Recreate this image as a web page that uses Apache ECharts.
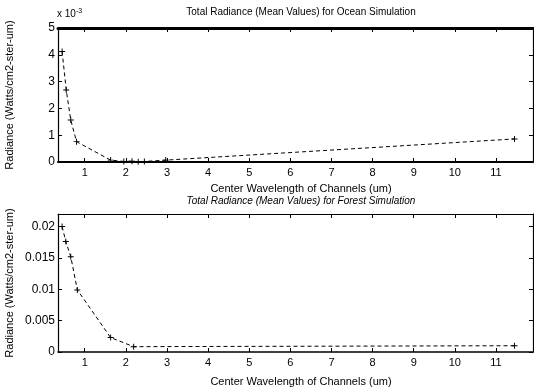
<!DOCTYPE html>
<html><head><meta charset="utf-8">
<script src="https://cdn.jsdelivr.net/npm/echarts@6/dist/echarts.min.js"></script>
<style>html,body{margin:0;padding:0;background:#fff}#c{width:534px;height:390px}</style>
</head><body><div id="c"></div>
<script>
// Ocean simulation (values in units of 1e-3 Watts/cm2-ster-um)
const oceanX = [0.45, 0.55, 0.66, 0.80, 1.63, 1.95, 2.15, 2.30, 2.45, 2.97, 11.45];
const oceanY = [4.12, 2.69, 1.57, 0.76, 0.07, 0.02, 0.03, 0.01, 0.02, 0.07, 0.86];
// Forest simulation
const forestX = [0.45, 0.54, 0.66, 0.82, 1.63, 2.19, 11.45];
const forestY = [0.0200, 0.0176, 0.0152, 0.0099, 0.0023, 0.00085, 0.0010];
const xTicks = [1,2,3,4,5,6,7,8,9,10,11];
const oceanYTicks = [0,1,2,3,4,5];
const forestYTicks = [0,0.005,0.01,0.015,0.02];
const topTitle = 'Total Radiance (Mean Values) for Ocean Simulation';
const botTitle = 'Total Radiance (Mean Values) for Forest Simulation';
const xName = 'Center Wavelength of Channels (um)';
const yName = 'Radiance (Watts/cm2-ster-um)';

const FONT = 'Liberation Sans';
const plus = 'path://M4.2,0H5.8V4.2H10V5.8H5.8V10H4.2V5.8H0V4.2H4.2Z';
const pair = (xs, ys) => xs.map((x, i) => [x, ys[i]]);
const chart = echarts.init(document.getElementById('c'));
const X0 = 0.35, X1 = 11.9;
function xAx(gi, pos, show, lw) {
  return {
    type: 'value', gridIndex: gi, position: pos, min: X0, max: X1,
    axisLine: {show: true, onZero: false, lineStyle: {color: '#000', width: lw}},
    axisTick: {show: true, inside: true, length: 4, customValues: xTicks, lineStyle: {color: '#000'}},
    axisLabel: {show: show, customValues: xTicks, color: '#000', fontFamily: FONT, fontSize: 11, margin: 5},
    splitLine: {show: false}
  };
}
function yAx(gi, pos, show, max, ticks, fmt) {
  return {
    type: 'value', gridIndex: gi, position: pos, min: 0, max: max,
    axisLine: {show: true, lineStyle: {color: '#000', width: 1.2}},
    axisTick: {show: true, inside: true, length: 4, customValues: ticks, lineStyle: {color: '#000'}},
    axisLabel: {show: show, customValues: ticks, color: '#000', fontFamily: FONT, fontSize: 12, margin: 3, formatter: fmt},
    splitLine: {show: false}
  };
}
const lineSeries = (xi, yi, data) => ({
  type: 'line', xAxisIndex: xi, yAxisIndex: yi, data: data,
  symbol: plus, symbolSize: 6, showSymbol: true,
  lineStyle: {color: '#000', width: 1, type: [4, 3]},
  itemStyle: {color: '#000', borderWidth: 0},
  animation: false
});
chart.setOption({
  animation: false,
  grid: [
    {left: 58, top: 28, width: 475, height: 134},
    {left: 58, top: 214, width: 475, height: 138}
  ],
  title: [
    {text: topTitle, left: 296, top: 2, textAlign: 'center', textStyle: {fontFamily: FONT, fontSize: 10, fontWeight: 'normal', color: '#000'}},
    {text: botTitle, left: 296, top: 191, textAlign: 'center', textStyle: {fontFamily: FONT, fontSize: 10, fontWeight: 'normal', fontStyle: 'italic', color: '#000'}},
    {text: xName, left: 296, top: 178, textAlign: 'center', textStyle: {fontFamily: FONT, fontSize: 11, fontWeight: 'normal', color: '#000'}},
    {text: xName, left: 296, top: 371, textAlign: 'center', textStyle: {fontFamily: FONT, fontSize: 11, fontWeight: 'normal', color: '#000'}}
  ],
  xAxis: [
    xAx(0, 'bottom', true, 2),
    xAx(0, 'top', false, 3),
    xAx(1, 'bottom', true, 1.5),
    xAx(1, 'top', false, 1)
  ],
  yAxis: [
    yAx(0, 'left', true, 5, oceanYTicks, v => String(v)),
    yAx(0, 'right', false, 5, oceanYTicks),
    yAx(1, 'left', true, 0.022, forestYTicks, v => String(v)),
    yAx(1, 'right', false, 0.022, forestYTicks)
  ],
  series: [
    lineSeries(0, 0, pair(oceanX, oceanY)),
    lineSeries(2, 2, pair(forestX, forestY))
  ],
  graphic: [
    {type: 'text', left: 57, top: 8, style: {text: '{a|x 10}{b|-3}', rich: {a: {fontFamily: FONT, fontSize: 10, fill: '#000'}, b: {fontFamily: FONT, fontSize: 7, fill: '#000', verticalAlign: 'top', padding: [0,0,6,0]}}}},
    {type: 'text', x: 10, y: 95, rotation: Math.PI / 2, style: {text: yName, fontFamily: FONT, fontSize: 11, fill: '#000', align: 'center', verticalAlign: 'middle'}},
    {type: 'text', x: 10, y: 283, rotation: Math.PI / 2, style: {text: yName, fontFamily: FONT, fontSize: 11, fill: '#000', align: 'center', verticalAlign: 'middle'}}
  ]
});
</script></body></html>
